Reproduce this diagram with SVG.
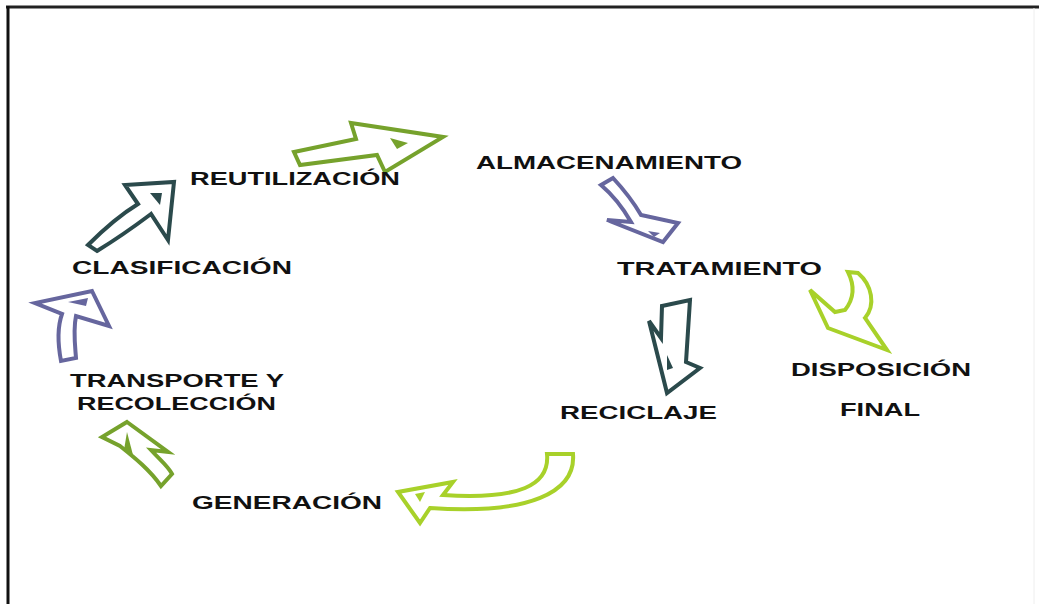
<svg xmlns="http://www.w3.org/2000/svg" width="1039" height="604" viewBox="0 0 1039 604">
<style>
.t{font-family:"Liberation Sans",Arial,sans-serif;font-weight:bold;font-size:18px;fill:#111}
.a{fill:#fff;stroke-width:4;stroke-linejoin:miter}
.teal{stroke:#2b4a4c}.teal-f{fill:#2b4a4c}
.pur{stroke:#66669e}.pur-f{fill:#66669e}
.olv{stroke:#76a22c}.olv-f{fill:#76a22c}
.lim{stroke:#a8d12a}.lim-f{fill:#a8d12a}
</style>
<rect width="1039" height="604" fill="#fff"/>
<line x1="6" y1="7" x2="1039" y2="7" stroke="#222" stroke-width="3"/>
<line x1="8" y1="6" x2="8" y2="604" stroke="#111" stroke-width="3"/>
<line x1="1034" y1="8" x2="1034" y2="604" stroke="#eee" stroke-width="1"/>

<g id="connectors">
<g id="arrow-reutilizacion-almacenamiento">
<path class="a olv" d="M294,152 L356,139 L351,123 L443,137 L385,172 L377,155 L300,165 Z"/>
<path class="olv-f" d="M390,138 L408,143 L397,149 Z"/>
</g>
<g id="arrow-almacenamiento-tratamiento">
<path class="a pur" d="M601,185 L613,178 C626,192 634,203 641,215 L678,223 L663,242 L607,220 L631,222 C623,208 614,196 601,185 Z"/>
<path class="pur-f" d="M648,231 L660,233 L654,237 Z"/>
</g>
<g id="arrow-tratamiento-disposicion">
<path class="a lim" d="M848,272 L858,273 C872,285 876,305 865,318 L887,350 L828,328 L810,290 L835,312 L845,310 C853,300 856,288 848,272 Z"/>
</g>
<g id="arrow-tratamiento-reciclaje">
<path class="a teal" d="M662,306 L690,300 L686,362 L700,368 L667,393 L649,321 L661,338 Z"/>
<path class="teal-f" d="M667,355 L673,368 L667,370 Z"/>
</g>
<g id="arrow-reciclaje-generacion">
<path class="a lim" d="M547,454 L573,454 C576,492 530,515 430,508 L420,523 L398,492 L453,482 L443,495 C520,500 550,485 547,454 Z"/>
<path class="lim-f" d="M415,494 L425,492 L420,502 Z"/>
</g>
<g id="arrow-generacion-transporte">
<path class="a olv" d="M127,422 L168,452 L151,450 C160,460 168,466 172,474 L161,486 C150,470 135,458 120,446 L102,437 Z"/>
<path class="olv-f" d="M127,432 L133,455 L124,450 Z"/>
</g>
<g id="arrow-transporte-clasificacion">
<path class="a pur" d="M92,291 L109,326 L76,316 C73,330 75,345 76,358 L61,361 C58,345 57,328 62,314 L35,303 Z"/>
<path class="pur-f" d="M68,302 L88,298 L86,306 Z"/>
</g>
<g id="arrow-clasificacion-reutilizacion">
<path class="a teal" d="M88,245 C105,228 120,215 138,204 L125,185 L174,182 L168,240 L151,214 C135,226 115,240 97,251 Z"/>
<path class="teal-f" d="M150,193 L162,193 L160,205 Z"/>
</g>
</g>

<g id="node-reutilizacion"><text class="t" x="190" y="185" textLength="210" lengthAdjust="spacingAndGlyphs">REUTILIZACIÓN</text></g>
<g id="node-almacenamiento"><text class="t" x="476" y="169" textLength="266" lengthAdjust="spacingAndGlyphs">ALMACENAMIENTO</text></g>
<g id="node-tratamiento"><text class="t" x="617" y="275" textLength="205" lengthAdjust="spacingAndGlyphs">TRATAMIENTO</text></g>
<g id="node-disposicion"><text class="t" x="791" y="376" textLength="180" lengthAdjust="spacingAndGlyphs">DISPOSICIÓN</text><text class="t" x="840" y="416" textLength="80" lengthAdjust="spacingAndGlyphs">FINAL</text></g>
<g id="node-reciclaje"><text class="t" x="560" y="419" textLength="157" lengthAdjust="spacingAndGlyphs">RECICLAJE</text></g>
<g id="node-generacion"><text class="t" x="192" y="509" textLength="190" lengthAdjust="spacingAndGlyphs">GENERACIÓN</text></g>
<g id="node-transporte"><text class="t" x="70" y="387" textLength="214" lengthAdjust="spacingAndGlyphs">TRANSPORTE Y</text><text class="t" x="77" y="410" textLength="199" lengthAdjust="spacingAndGlyphs">RECOLECCIÓN</text></g>
<g id="node-clasificacion"><text class="t" x="72" y="274" textLength="220" lengthAdjust="spacingAndGlyphs">CLASIFICACIÓN</text></g>
</svg>
